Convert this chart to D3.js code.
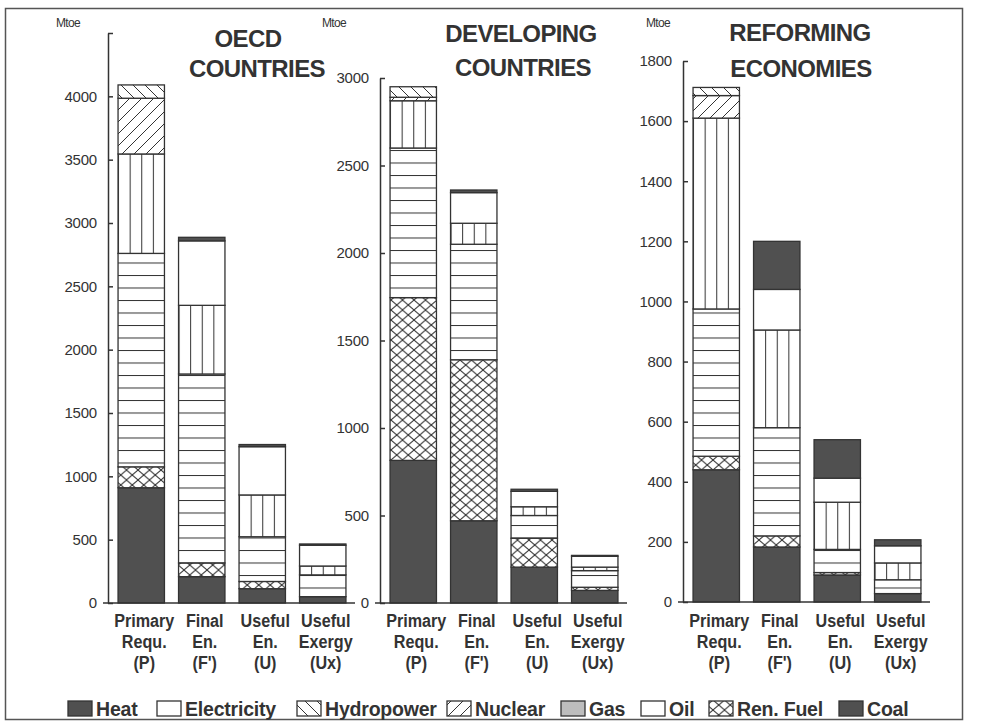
<!DOCTYPE html>
<html>
<head>
<meta charset="utf-8">
<script src="https://cdn.jsdelivr.net/npm/d3@7"></script>
<style>
  html, body { margin: 0; padding: 0; background: #fff; }
  svg { display: block; }
  text { font-family: "Liberation Sans", Arial, sans-serif; fill: #333; }
</style>
</head>
<body>
<svg id="chart" width="985" height="723"></svg>
<script>
// Energy chain stacks (Mtoe), series order bottom to top
const series = ["Coal", "Ren. Fuel", "Oil", "Gas", "Nuclear", "Hydropower", "Electricity", "Heat"];
const legendOrder = ["Heat", "Electricity", "Hydropower", "Nuclear", "Gas", "Oil", "Ren. Fuel", "Coal"];
const catLine1 = ["Primary", "Final", "Useful", "Useful"];
const catLine2 = ["Requ.", "En.", "En.", "Exergy"];
const catLine3 = ["(P)", "(F')", "(U)", "(Ux)"];

// OECD countries
const oecdP  = [910, 165, 1685, 785, 440, 105, 0, 0];
const oecdF  = [208, 108, 1492, 542, 0, 0, 509, 28];
const oecdU  = [113, 57, 353, 330, 0, 0, 381, 17];
const oecdUx = [50, 0, 172, 70, 0, 0, 164, 10];

// Developing countries
const devP  = [815, 930, 855, 270, 20, 60, 0, 0];
const devF  = [470, 920, 660, 120, 0, 0, 175, 15];
const devU  = [205, 165, 130, 50, 0, 0, 88, 12];
const devUx = [72, 18, 95, 20, 0, 0, 62, 5];

// Reforming economies
const refP  = [440, 45, 490, 635, 75, 27, 0, 0];
const refF  = [183, 37, 360, 325, 0, 0, 135, 160];
const refU  = [90, 8, 77, 157, 0, 0, 80, 128];
const refUx = [28, 0, 46, 56, 0, 0, 57, 20];

const oecdTicks = [0, 500, 1000, 1500, 2000, 2500, 3000, 3500, 4000, 4500];
const devTicks  = [0, 500, 1000, 1500, 2000, 2500, 3000];
const refTicks  = [0, 200, 400, 600, 800, 1000, 1200, 1400, 1600, 1800];

const panels = [
  { title: ["OECD", "COUNTRIES"], rows: [oecdP, oecdF, oecdU, oecdUx], ticks: oecdTicks,
    max: 4500, axisX: 108, yTop: 33, yBase: 603, titleX: [248, 257], titleY: [47, 77], mtoeX: 68 },
  { title: ["DEVELOPING", "COUNTRIES"], rows: [devP, devF, devU, devUx], ticks: devTicks,
    max: 3000, axisX: 380, yTop: 78, yBase: 603, titleX: [521, 523], titleY: [42, 76], mtoeX: 334 },
  { title: ["REFORMING", "ECONOMIES"], rows: [refP, refF, refU, refUx], ticks: refTicks,
    max: 1800, axisX: 683, yTop: 61, yBase: 602, titleX: [800, 801], titleY: [41, 77], mtoeX: 658 }
];

const ink = "#333";
const dark = "#505050";
const svg = d3.select("#chart");
const defs = svg.append("defs");

// Hatch patterns
function linePattern(id, w, h, lines, units) {
  const p = defs.append("pattern").attr("id", id)
    .attr("patternUnits", units || "userSpaceOnUse")
    .attr("width", w).attr("height", h);
  p.append("rect").attr("width", units ? 2000 : w).attr("height", units ? 2000 : h).attr("fill", "#fff");
  lines.forEach(l => p.append("line")
    .attr("x1", l[0]).attr("y1", l[1]).attr("x2", l[2]).attr("y2", l[3])
    .attr("stroke", ink).attr("stroke-width", 1));
  return `url(#${id})`;
}
const fills = {
  "Coal": dark,
  "Heat": dark,
  "Electricity": "#fff",
  "Oil": linePattern("p-oil", 20, 12.5, [[0, 0.5, 20, 0.5]]),
  "Gas": linePattern("p-gas", 0.25, 1, [[0.5, 0, 0.5, 2000]], "objectBoundingBox"),
  "Ren. Fuel": linePattern("p-ren", 11.5, 10, [[0, 0, 11.5, 10], [11.5, 0, 0, 10]]),
  "Nuclear": linePattern("p-nuc", 12, 12, [[0, 12, 12, 0], [-3, 3, 3, -3], [9, 15, 15, 9]]),
  "Hydropower": linePattern("p-hyd", 12, 12, [[0, 0, 12, 12], [-3, 9, 3, 15], [9, -3, 15, 3]])
};
const legendFills = Object.assign({}, fills, { "Gas": "#bdbdbd", "Oil": "#fff" });

// Outer frame
svg.append("rect").attr("x", 5.5).attr("y", 8.5).attr("width", 957).attr("height", 711)
  .attr("fill", "none").attr("stroke", "#555").attr("stroke-width", 1.5);

const stack = d3.stack().keys(series.map((s, i) => i));

panels.forEach(pn => {
  const g = svg.append("g");
  const y = d3.scaleLinear().domain([0, pn.max]).range([pn.yBase, pn.yTop]);
  const x = d3.scaleBand().domain(catLine1.map((c, i) => i))
    .range([pn.axisX + 4, pn.axisX + 244]).paddingInner(0.233).paddingOuter(0.1);

  const stacked = stack(pn.rows);

  stacked.forEach((layer, si) => {
    g.append("g").selectAll("rect")
      .data(layer.filter(d => d[1] - d[0] > 0))
      .join("rect")
      .attr("x", d => x(pn.rows.indexOf(d.data)))
      .attr("width", x.bandwidth())
      .attr("y", d => y(d[1]))
      .attr("height", d => y(d[0]) - y(d[1]))
      .attr("fill", fills[series[si]])
      .attr("stroke", ink).attr("stroke-width", 1.3);
  });

  // y axis
  const axis = d3.axisLeft(y).tickValues(pn.ticks)
    .tickFormat(v => v === pn.max && pn.max === 4500 ? "" : v)
    .tickSizeInner(5).tickSizeOuter(0).tickPadding(6);
  const ag = g.append("g").attr("transform", `translate(${pn.axisX},0)`).call(axis);
  ag.select(".domain").attr("stroke", ink).attr("stroke-width", 1.5);
  ag.selectAll(".tick line").attr("stroke", ink).attr("stroke-width", 1.5).attr("x2", 5);
  ag.selectAll(".tick text").attr("fill", "#333")
    .style("font-family", "'Liberation Sans', Arial, sans-serif").style("font-size", "15px")
    .style("letter-spacing", "-0.2px");

  // baseline
  g.append("line").attr("x1", pn.axisX - 5).attr("x2", pn.axisX + 247)
    .attr("y1", pn.yBase).attr("y2", pn.yBase).attr("stroke", ink).attr("stroke-width", 1.5);

  // category labels (condensed bold)
  [catLine1, catLine2, catLine3].forEach((line, li) => {
    g.append("g").selectAll("text").data(line).join("text")
      .attr("transform", (d, i) => `translate(${x(i) + x.bandwidth() / 2 + 3},${627 + li * 21}) scale(0.85,1)`)
      .attr("text-anchor", "middle")
      .style("font-weight", "bold").style("font-size", "19px")
      .text(d => d);
  });

  // titles
  pn.title.forEach((t, i) => {
    g.append("text").attr("x", pn.titleX[i]).attr("y", pn.titleY[i])
      .attr("text-anchor", "middle")
      .style("font-weight", "bold").style("font-size", "24px").style("letter-spacing", "-0.6px")
      .text(t);
  });
  g.append("text").attr("x", pn.mtoeX).attr("y", 27).attr("text-anchor", "middle")
    .style("font-size", "12px").style("letter-spacing", "-0.7px").text("Mtoe");
});

// Legend
const legendBoxX = [68, 157, 297, 447, 561, 641, 709, 839];
const lg = svg.append("g");
legendOrder.forEach((name, i) => {
  const bx = legendBoxX[i];
  lg.append("rect").attr("x", bx).attr("y", 701).attr("width", 24).attr("height", 15)
    .attr("fill", legendFills[name]).attr("stroke", ink).attr("stroke-width", 1.3);
  lg.append("text").attr("x", bx + 28).attr("y", 716)
    .style("font-weight", "bold").style("font-size", "19.5px").style("letter-spacing", "-0.2px")
    .text(name);
});
</script>
</body>
</html>
